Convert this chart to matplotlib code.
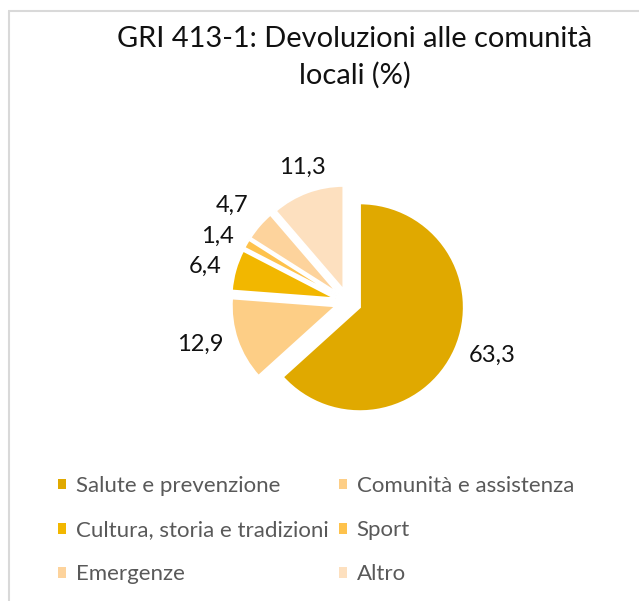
import numpy as np
import matplotlib.pyplot as plt
from matplotlib.patches import Patch

# data
categories = ['Salute e prevenzione', 'Comunità e assistenza',
              'Cultura, storia e tradizioni', 'Sport', 'Emergenze', 'Altro']
values = [63.3, 12.9, 6.4, 1.4, 4.7, 11.3]
value_labels = ['63,3', '12,9', '6,4', '1,4', '4,7', '11,3']
colors = ['#E0A900', '#FDCE86', '#F2B700', '#FEC24C', '#FDD39C', '#FDE0BF']

title = 'GRI 413-1: Devoluzioni alle comunità\nlocali (%)'

W, H = 639, 601
plt.rcParams['font.family'] = ['Lato', 'DejaVu Sans']

fig = plt.figure(figsize=(W / 100, H / 100), dpi=100)
ax = fig.add_axes([0, 0, 1, 1])

# chart area border (top and left edges visible)
ax.plot([8.5, 8.5], [0, H - 11], color='#D9D9D9', lw=1.5, solid_capstyle='butt')
ax.plot([8, W], [H - 11, H - 11], color='#D9D9D9', lw=1.5, solid_capstyle='butt')

# pie (explode is in data units here since radius=104)
wedges, _ = ax.pie(values, colors=colors, startangle=90, counterclock=False,
                   explode=[13] * len(values), radius=104,
                   center=(348, H - 302),
                   wedgeprops=dict(edgecolor='white', linewidth=1.5),
                   frame=True)

# data labels "outside end", like Excel
gap = 15
for w, lab in zip(wedges, value_labels):
    th = np.deg2rad((w.theta1 + w.theta2) / 2)
    c, s = np.cos(th), np.sin(th)
    x = w.center[0] + (w.r + gap) * c
    y = w.center[1] + (w.r + gap) * s
    ha = 'center' if abs(c) < 0.4 else ('left' if c > 0 else 'right')
    va = 'center' if abs(s) < 0.6 else ('bottom' if s > 0 else 'top')
    ax.text(x, y, lab, ha=ha, va=va, fontsize=17, color='#111111')

ax.set_xlim(0, W)
ax.set_ylim(0, H)
ax.set_aspect('equal')
ax.axis('off')

# title (baseline of the last line)
ax.text(355, H - 84, title, ha='center', va='baseline', fontsize=20.9,
        color='#111111', linespacing=1.45)

# legend, row-wise order in two columns
order = [0, 2, 4, 1, 3, 5]
handles = [Patch(facecolor=colors[i], edgecolor='none', label=categories[i]) for i in order]
ax.legend(handles=handles, ncol=2, loc='upper left',
          bbox_to_anchor=(58, H - 476), bbox_transform=ax.transData,
          frameon=False, fontsize=16, labelcolor='#595959',
          handlelength=0.36, handleheight=0.36, handletextpad=0.45,
          columnspacing=0.45, labelspacing=1.09, borderpad=0, borderaxespad=0)

fig.savefig('out.png', dpi=100)
